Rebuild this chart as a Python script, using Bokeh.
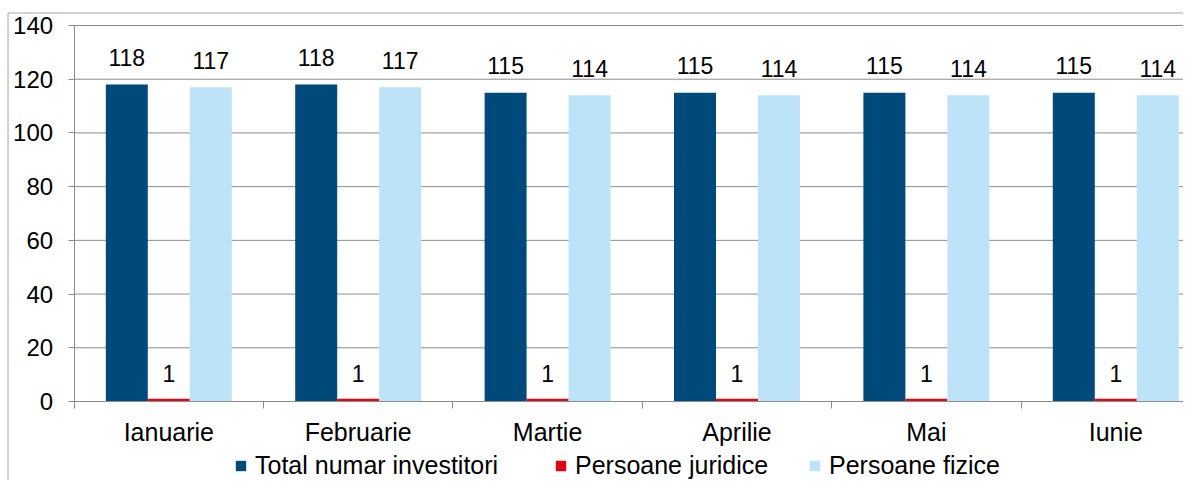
from bokeh.plotting import figure
from bokeh.models import (Range1d, FixedTicker, Legend, LegendItem, ColumnDataSource)
from bokeh.core.properties import value
from bokeh.embed import file_html
from bokeh.resources import INLINE

months = ["Ianuarie", "Februarie", "Martie", "Aprilie", "Mai", "Iunie"]
total = [118, 118, 115, 115, 115, 115]
juridice = [1, 1, 1, 1, 1, 1]
fizice = [117, 117, 114, 114, 114, 114]
series_names = ["Total numar investitori", "Persoane juridice", "Persoane fizice"]
y_ticks = [0, 20, 40, 60, 80, 100, 120, 140]

FONT = "Liberation Sans"
GRID = "#8c8c8c"
BORDER = "#a6a6a6"
colors = ["#00497B", "#E30613", "#BDE3F8"]

# layout in pixels (whole canvas is the frame; axes are placed by data location)
W, H = 1183, 480
X0_PX, CAT_PX = 73.6, 189.4          # x of first category start, px per category
Y0_PX, YTOP_PX = 401.0, 25.0         # y of value 0 and of value 140
ymax = y_ticks[-1]
KY = (Y0_PX - YTOP_PX) / ymax        # px per unit
legend_x = [234, 554, 808]           # legend item positions (px)


def xd(px):
    return (px - X0_PX) / CAT_PX


def yd(py):
    return (Y0_PX - py) / KY


bw = 42 / CAT_PX
centers = [i + 0.5 for i in range(len(months))]

p = figure(width=W, height=H, output_backend="svg", toolbar_location=None,
           x_range=Range1d(xd(0), xd(W)), y_range=Range1d(yd(H), yd(0)))
p.min_border_left = 0
p.min_border_top = 0
p.min_border_bottom = 0
p.min_border_right = 0
p.outline_line_color = None
p.xgrid.visible = False
p.ygrid.visible = False

# outer chart border (left and top)
p.line(x=[xd(7.5), xd(7.5), xd(W)], y=[yd(H), yd(12.5), yd(12.5)],
       line_color=BORDER, line_width=1)

# horizontal gridlines
p.segment(x0=0, x1=xd(W), y0=y_ticks[1:], y1=y_ticks[1:], line_color=GRID, line_width=1)

renderers = []
for k, (vals, col) in enumerate(zip([total, juridice, fizice], colors)):
    xs = [c + (k - 1) * bw for c in centers]
    src = ColumnDataSource(dict(x=xs, top=vals, label=[str(v) for v in vals]))
    r = p.vbar(x="x", top="top", width=bw, source=src, fill_color=col, line_color=None)
    renderers.append(r)
    p.text(x="x", y="top", text="label", source=src, text_align="center",
           text_baseline="alphabetic", y_offset=-25 if k == 1 else -27,
           text_font=value(FONT), text_font_size="23px", text_color="#000000")

# y axis
ya = p.yaxis[0]
ya.fixed_location = 0
ya.bounds = (0, ymax)
ya.ticker = FixedTicker(ticks=y_ticks)
ya.axis_line_color = GRID
ya.major_tick_line_color = GRID
ya.major_tick_out = 6
ya.major_tick_in = 0
ya.minor_tick_line_color = None
ya.major_label_standoff = 15
ya.major_label_text_font = FONT
ya.major_label_text_font_size = "24px"
ya.major_label_text_color = "#000000"

# x axis
xa = p.xaxis[0]
xa.fixed_location = 0
xa.bounds = (0, len(months))
xa.ticker = FixedTicker(ticks=centers, minor_ticks=list(range(len(months) + 1)))
xa.major_label_overrides = {c: m for c, m in zip(centers, months)}
xa.axis_line_color = GRID
xa.major_tick_line_color = None
xa.major_tick_out = 0
xa.major_tick_in = 0
xa.minor_tick_line_color = GRID
xa.minor_tick_out = 7
xa.minor_tick_in = 0
xa.major_label_standoff = 9
xa.major_label_text_font = FONT
xa.major_label_text_font_size = "25px"
xa.major_label_text_color = "#000000"

for name, r, lx in zip(series_names, renderers, legend_x):
    legend = Legend(items=[LegendItem(label=name, renderers=[r])],
                    orientation="horizontal", location=(lx, 0), glyph_width=13, glyph_height=13,
                    label_standoff=8, spacing=0, label_text_font=FONT, label_text_font_size="25px",
                    label_text_color="#000000", border_line_color=None, background_fill_alpha=0,
                    padding=0, margin=0)
    p.add_layout(legend, "center")

open("out.html", "w").write(file_html(p, INLINE))
